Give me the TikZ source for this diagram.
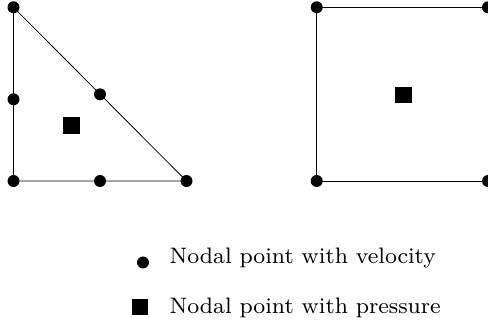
\documentclass[tikz,border=0pt]{standalone}
\usepackage{tikz}
\usetikzlibrary{positioning}

\begin{document}
\begin{tikzpicture}[
        x=1pt, y=1pt,
        vdot/.style={circle, fill=black, inner sep=0pt, minimum size=12pt},
        pbox/.style={rectangle, fill=black, inner sep=0pt, minimum size=16.5pt},
        elem/.style={line width=0.8pt, black},
        lbl/.style={anchor=base west, inner sep=0pt, font=\fontsize{8}{9.6}\selectfont, scale=2.8, transform shape},
    ]
        \useasboundingbox (0,0) rectangle (488,327);

        % Triangle element
        \node[vdot] (ta) at (13.5,319.7) {};
        \node[vdot] (tb) at (13.5,146) {};
        \node[vdot] (tc) at (186.5,146) {};
        \node[vdot] (tab) at (13.5,227.7) {};
        \node[vdot] (tac) at (100,232.7) {};
        \node[vdot] (tbc) at (100,146) {};
        \node[pbox] (tp) at (71.7,201.3) {};

        \draw[elem] (ta.center) -- (tb.center) -- (tc.center) -- cycle;

        % Quadrilateral element
        \node[vdot] (qa) at (316.7,319.7) {};
        \node[vdot] (qb) at (316.7,146) {};
        \node[vdot] (qc) at (488,146) {};
        \node[vdot] (qd) at (488,319.7) {};
        \node[pbox] (qp) at (403.3,232) {};

        \draw[elem] (qa.center) -- (qb.center) -- (qc.center) -- (qd.center) -- cycle;

        % Legend
        \node[vdot] (lv) at (143,64.5) {};
        \node[pbox] (lp) at (140,20) {};
        \node[lbl] (lvtext) at (169,63) {Nodal point with velocity};
        \node[lbl] (lptext) at (169,13) {Nodal point with pressure};

    \end{tikzpicture}
\end{document}
